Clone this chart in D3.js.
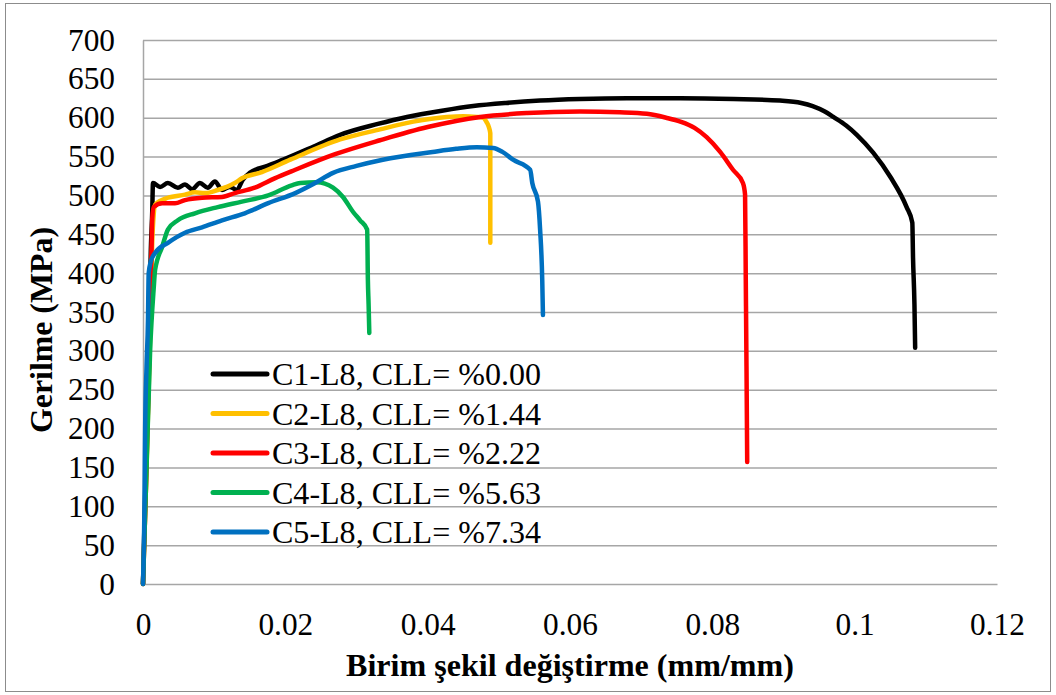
<!DOCTYPE html>
<html>
<head>
<meta charset="utf-8">
<script src="https://cdn.jsdelivr.net/npm/d3@7"></script>
<style>
  body { margin: 0; background: #fff; }
  svg text { font-family: "Liberation Serif", "Times New Roman", Times, Tinos, "Nimbus Roman", "Noto Serif", FreeSerif, "DejaVu Serif", serif; fill: #000; }
</style>
</head>
<body>
<div id="chart"></div>
<script>
const width = 1056, height = 695;
const margin = { top: 40, right: 59, bottom: 111, left: 143 };
const serif = '"Liberation Serif", "Times New Roman", Times, Tinos, "Nimbus Roman", "Noto Serif", FreeSerif, "DejaVu Serif", serif';

// series names (legend)
const seriesNames = ['C1-L8, CLL= %0.00', 'C2-L8, CLL= %1.44', 'C3-L8, CLL= %2.22', 'C4-L8, CLL= %5.63', 'C5-L8, CLL= %7.34'];
const seriesColors = ['#000000', '#FFC000', '#FF0000', '#00B050', '#0070C0'];

// strain (mm/mm) and stress (MPa)
const c1Strain = [0, 0.0004, 0.0008, 0.0011, 0.0013, 0.0014, 0.0024, 0.0035, 0.0049, 0.0059, 0.0069, 0.0080, 0.0091, 0.0101, 0.0111, 0.0122, 0.0132, 0.0140, 0.0150, 0.0175, 0.0197, 0.0240, 0.0277, 0.0330, 0.0371, 0.0420, 0.0464, 0.0510, 0.0558, 0.0614, 0.0680, 0.0755, 0.0830, 0.0895, 0.0925, 0.0941, 0.0958, 0.0970, 0.0988, 0.1003, 0.1026, 0.1050, 0.1073, 0.1081, 0.1082, 0.1084, 0.1085];
const c1Stress = [0, 150, 300, 430, 480, 516, 511, 516, 510, 514, 508, 516, 510, 518, 507, 511, 507, 520, 529, 538, 546, 563, 578, 592, 601, 609, 615, 619, 622, 624, 625, 625, 624, 622, 619, 615, 608, 601, 590, 578, 555, 524, 485, 465, 420, 360, 304];

const c2Strain = [0, 0.0005, 0.0010, 0.0013, 0.0015, 0.0017, 0.0035, 0.0059, 0.0073, 0.0087, 0.0105, 0.0129, 0.0139, 0.0167, 0.0207, 0.0277, 0.0333, 0.0380, 0.0427, 0.0450, 0.0469, 0.0478, 0.0483, 0.0486, 0.0488, 0.0488, 0.0488];
const c2Stress = [0, 150, 320, 440, 475, 488, 497, 501, 504, 503, 507, 516, 522, 530, 546, 572, 585, 595, 601, 602, 601, 600, 594, 588, 580, 500, 439];

const c3Strain = [0, 0.0004, 0.0009, 0.0012, 0.0013, 0.0015, 0.0027, 0.0045, 0.0059, 0.0083, 0.0111, 0.0129, 0.0157, 0.0185, 0.0214, 0.0270, 0.0333, 0.0400, 0.0474, 0.0540, 0.0614, 0.0670, 0.0708, 0.0735, 0.0755, 0.0775, 0.0792, 0.0811, 0.0829, 0.0843, 0.0846, 0.0847, 0.0848, 0.0849];
const c3Stress = [0, 120, 300, 430, 470, 485, 490, 490, 494, 497, 498, 503, 510, 522, 533, 553, 571, 588, 601, 606, 608, 607, 605, 600, 595, 587, 575, 556, 533, 516, 501, 391, 280, 157];

const c4Strain = [0, 0.0005, 0.0010, 0.0015, 0.0017, 0.0027, 0.0035, 0.0049, 0.0073, 0.0105, 0.0139, 0.0176, 0.0209, 0.0221, 0.0244, 0.0267, 0.0281, 0.0295, 0.0305, 0.0315, 0.0316, 0.0317, 0.0318];
const c4Stress = [0, 150, 300, 380, 404, 434, 456, 468, 477, 485, 492, 500, 513, 516, 517, 510, 498, 479, 468, 456, 391, 360, 323];

const c5Strain = [0, 0.0002, 0.0003, 0.0005, 0.0007, 0.0008, 0.0011, 0.0017, 0.0035, 0.0059, 0.0083, 0.0111, 0.0143, 0.0176, 0.0214, 0.0240, 0.0267, 0.0300, 0.0337, 0.0407, 0.0440, 0.0469, 0.0492, 0.0505, 0.0520, 0.0544, 0.0547, 0.0555, 0.0558, 0.0561, 0.0562];
const c5Stress = [0, 100, 200, 280, 340, 400, 415, 426, 439, 452, 459, 468, 477, 490, 503, 515, 529, 538, 546, 556, 560, 562, 561, 556, 546, 533, 516, 492, 456, 391, 346];

const strains = [c1Strain, c2Strain, c3Strain, c4Strain, c5Strain];
const stresses = [c1Stress, c2Stress, c3Stress, c4Stress, c5Stress];

// ticks
const xTicks = [0, 0.02, 0.04, 0.06, 0.08, 0.1, 0.12];
const xTickLabels = ['0', '0.02', '0.04', '0.06', '0.08', '0.1', '0.12'];
const yTicks = [0, 50, 100, 150, 200, 250, 300, 350, 400, 450, 500, 550, 600, 650, 700];

// shrink/grow font so a text node gets the width it has in the picture
function fitWidth(node, target, size) {
    const w = node.getComputedTextLength();
    if (w > 0) d3.select(node).style('font-size', (size * target / w).toFixed(2) + 'px');
}

const svg = d3.select('#chart').append('svg')
    .attr('width', width)
    .attr('height', height);

// outer frame
svg.append('rect')
    .attr('x', 5.5).attr('y', 3.5)
    .attr('width', 1045).attr('height', 688)
    .attr('fill', '#fff')
    .attr('stroke', '#8c8c8c')
    .attr('stroke-width', 1);

const x = d3.scaleLinear()
    .domain([0, 0.12])
    .range([margin.left, width - margin.right]);

const y = d3.scaleLinear()
    .domain([0, 700])
    .range([height - margin.bottom, margin.top]);

// gridlines
svg.append('g')
    .attr('transform', `translate(${margin.left},0)`)
    .call(d3.axisLeft(y).tickValues(yTicks.slice(1)).tickSize(-(width - margin.left - margin.right)).tickFormat(''))
    .call(g => g.select('.domain').remove())
    .call(g => g.selectAll('line').attr('stroke', '#a6a6a6').attr('stroke-width', 1.5));

// Y axis
const yAxis = svg.append('g')
    .attr('transform', `translate(${margin.left},0)`)
    .attr('font-family', null)
    .call(d3.axisLeft(y).tickValues(yTicks).tickSize(0).tickPadding(28))
    .call(g => g.select('.domain').attr('stroke', '#a6a6a6').attr('stroke-width', 1.5))
    .call(g => g.selectAll('text')
        .style('font-family', serif)
        .style('font-size', '30px'));

// X axis
const xAxis = svg.append('g')
    .attr('transform', `translate(0,${height - margin.bottom})`)
    .call(d3.axisBottom(x).tickValues(xTicks).tickSize(0).tickFormat((d, i) => xTickLabels[i]))
    .call(g => g.select('.domain').attr('stroke', '#a6a6a6').attr('stroke-width', 1.5))
    .call(g => g.selectAll('text')
        .attr('y', 51).attr('dy', null)
        .style('font-family', serif)
        .style('font-size', '30px'));

// curves
const line = d3.line()
    .x(d => x(d[0]))
    .y(d => y(d[1]))
    .curve(d3.curveMonotoneX);

strains.forEach((s, i) => {
    const pts = s.map((v, j) => [v, stresses[i][j]]);
    svg.append('path')
        .datum(pts)
        .attr('fill', 'none')
        .attr('stroke', seriesColors[i])
        .attr('stroke-width', 4.5)
        .attr('stroke-linejoin', 'round')
        .attr('stroke-linecap', 'round')
        .attr('d', line);
});

// X Label
const xLabel = svg.append('text')
    .attr('x', (margin.left + width - margin.right) / 2)
    .attr('y', 676)
    .attr('text-anchor', 'middle')
    .style('font-family', serif)
    .style('font-weight', 'bold')
    .style('font-size', '32px')
    .text('Birim şekil değiştirme (mm/mm)');

// Y Label
const yLabel = svg.append('text')
    .attr('transform', 'rotate(-90)')
    .attr('x', -330)
    .attr('y', 52)
    .attr('text-anchor', 'middle')
    .style('font-family', serif)
    .style('font-weight', 'bold')
    .style('font-size', '32px')
    .text('Gerilme (MPa)');

// Legend
const legend = svg.append('g')
    .attr('transform', 'translate(213,374)');

const legendTexts = [];
seriesNames.forEach((name, i) => {
    const row = legend.append('g').attr('transform', `translate(0,${i * 39.5})`);
    row.append('line')
        .attr('x1', 0).attr('x2', 54)
        .attr('stroke', seriesColors[i])
        .attr('stroke-width', 5)
        .attr('stroke-linecap', 'round');
    legendTexts.push(row.append('text')
        .attr('x', 59)
        .attr('y', 11)
        .style('font-family', serif)
        .style('font-size', '32px')
        .text(name).node());
});

// keep text widths close to the picture whatever serif face is found
fitWidth(xLabel.node(), 448, 32);
fitWidth(yLabel.node(), 206, 32);
const legendScale = 269 / legendTexts[0].getComputedTextLength();
legendTexts.forEach(n => d3.select(n).style('font-size', (32 * legendScale).toFixed(2) + 'px'));
const tickScale = 47 / yAxis.selectAll('text').filter(d => d === 700).node().getComputedTextLength();
yAxis.selectAll('text').style('font-size', (30 * tickScale).toFixed(2) + 'px');
xAxis.selectAll('text').style('font-size', (30 * tickScale).toFixed(2) + 'px');
</script>
</body>
</html>
